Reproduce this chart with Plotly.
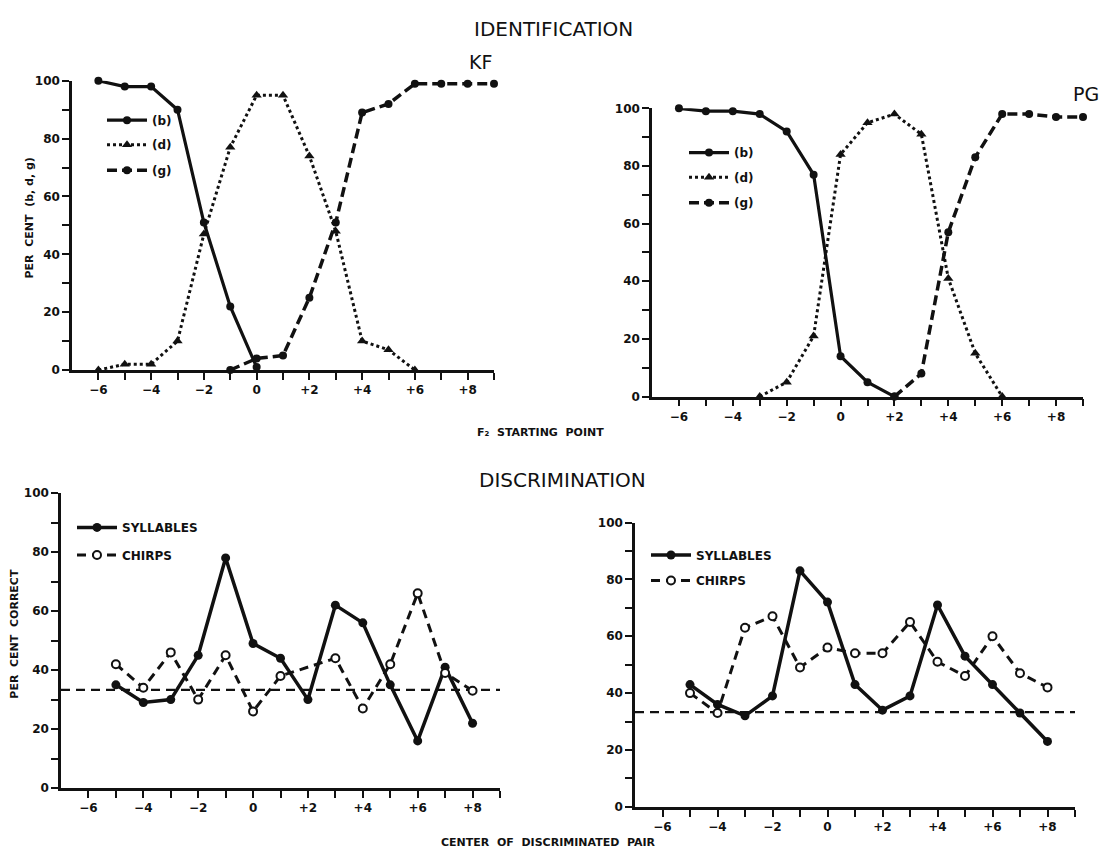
import plotly.graph_objects as go

# ---------------- data ----------------
x_tick_vals = [-6, -4, -2, 0, 2, 4, 6, 8]
x_tick_text = ["\u22126", "\u22124", "\u22122", "0", "+2", "+4", "+6", "+8"]
x_minor_vals = [-5, -3, -1, 1, 3, 5, 7, 9]
y_tick_vals = [0, 20, 40, 60, 80, 100]
y_tick_text = ["0", "20", "40", "60", "80", "100"]
y_minor_vals = [10, 30, 50, 70, 90]

# Identification, listener KF
kf_b_x = [-6, -5, -4, -3, -2, -1, 0]
kf_b_y = [100, 98, 98, 90, 51, 22, 1]
kf_d_x = [-6, -5, -4, -3, -2, -1, 0, 1, 2, 3, 4, 5, 6]
kf_d_y = [0, 2, 2, 10, 47, 77, 95, 95, 74, 48, 10, 7, 0]
kf_g_x = [-1, 0, 1, 2, 3, 4, 5, 6, 7, 8, 9]
kf_g_y = [0, 4, 5, 25, 51, 89, 92, 99, 99, 99, 99]

# Identification, listener PG
pg_b_x = [-6, -5, -4, -3, -2, -1, 0, 1, 2]
pg_b_y = [100, 99, 99, 98, 92, 77, 14, 5, 0]
pg_d_x = [-3, -2, -1, 0, 1, 2, 3, 4, 5, 6]
pg_d_y = [0, 5, 21, 84, 95, 98, 91, 41, 15, 0]
pg_g_x = [2, 3, 4, 5, 6, 7, 8, 9]
pg_g_y = [0, 8, 57, 83, 98, 98, 97, 97]

# Discrimination, listener KF
kf_syl_x = [-5, -4, -3, -2, -1, 0, 1, 2, 3, 4, 5, 6, 7, 8]
kf_syl_y = [35, 29, 30, 45, 78, 49, 44, 30, 62, 56, 35, 16, 41, 22]
kf_chirp_x = [-5, -4, -3, -2, -1, 0, 1, 3, 4, 5, 6, 7, 8]
kf_chirp_y = [42, 34, 46, 30, 45, 26, 38, 44, 27, 42, 66, 39, 33]

# Discrimination, listener PG
pg_syl_x = [-5, -4, -3, -2, -1, 0, 1, 2, 3, 4, 5, 6, 7, 8]
pg_syl_y = [43, 36, 32, 39, 83, 72, 43, 34, 39, 71, 53, 43, 33, 23]
pg_chirp_x = [-5, -4, -3, -2, -1, 0, 1, 2, 3, 4, 5, 6, 7, 8]
pg_chirp_y = [40, 33, 63, 67, 49, 56, 54, 54, 65, 51, 46, 60, 47, 42]

chance_x = [-7, 9]
chance_level = 33.3

# ---------------- layout helpers ----------------
W, H = 1100, 864
FONT = "DejaVu Sans"
BLACK = "#111111"

# panel boxes in pixels: left(x=-7), right(x=9), top(y=100), bottom(y=0)
panels = {
    "1": (72, 494, 75, 369),
    "2": (652, 1083, 103, 396),
    "3": (61, 500, 494, 794),
    "4": (635, 1075, 524, 813),
}


def xdom(p):
    return [p[0] / W, p[1] / W]


def ydom(p):
    return [1 - p[3] / H, 1 - p[2] / H]


fig = go.Figure()
legend_boxes = {}


def add_line(x, y, axis, dash, symbol, width, msize, name, leg_pos, open_marker=False):
    legname = "legend%d" % (len(legend_boxes) + 1)
    if legname == "legend1":
        legname = "legend"
    legend_boxes[legname] = leg_pos
    fig.add_trace(go.Scatter(
        x=x, y=y, mode="lines+markers", name=name,
        xaxis="x" + ("" if axis == "1" else axis),
        yaxis="y" + ("" if axis == "1" else axis),
        line=dict(color=BLACK, width=width, dash=dash),
        marker=dict(symbol=symbol, size=msize,
                    color="white" if open_marker else BLACK,
                    line=dict(color=BLACK, width=2 if open_marker else 0)),
        cliponaxis=False, legend=legname,
    ))


# chance lines (drawn first, beneath the data)
for ax in ("3", "4"):
    fig.add_trace(go.Scatter(
        x=chance_x, y=[chance_level] * len(chance_x), mode="lines",
        xaxis="x" + ax, yaxis="y" + ax,
        line=dict(color=BLACK, width=2.2, dash="9px,6px"),
        showlegend=False, hoverinfo="skip"))

# identification KF
add_line(kf_b_x, kf_b_y, "1", "solid", "circle", 3.2, 8, "(b)", (102, 115))
add_line(kf_d_x, kf_d_y, "1", "dot", "triangle-up", 3, 9, "(d)", (102, 140))
add_line(kf_g_x, kf_g_y, "1", "10px,5px", "circle", 3.5, 8, "(g)", (102, 166))
# identification PG
add_line(pg_b_x, pg_b_y, "2", "solid", "circle", 3.2, 8, "(b)", (684, 148))
add_line(pg_d_x, pg_d_y, "2", "dot", "triangle-up", 3, 9, "(d)", (684, 173))
add_line(pg_g_x, pg_g_y, "2", "10px,5px", "circle", 3.5, 8, "(g)", (684, 199))
# discrimination KF
add_line(kf_syl_x, kf_syl_y, "3", "solid", "circle", 3.5, 9, "SYLLABLES", (72, 529))
add_line(kf_chirp_x, kf_chirp_y, "3", "9px,6px", "circle", 3, 8, "CHIRPS", (72, 557), open_marker=True)
# discrimination PG
add_line(pg_syl_x, pg_syl_y, "4", "solid", "circle", 3.5, 9, "SYLLABLES", (646, 557))
add_line(pg_chirp_x, pg_chirp_y, "4", "9px,6px", "circle", 3, 8, "CHIRPS", (646, 583), open_marker=True)

tickfont = dict(family=FONT, size=12, color=BLACK, weight="bold")

layout = dict(
    width=W, height=H, autosize=False,
    margin=dict(l=0, r=0, t=0, b=0),
    paper_bgcolor="white", plot_bgcolor="white",
    font=dict(family=FONT, color=BLACK),
)

for k, p in panels.items():
    sfx = "" if k == "1" else k
    layout["xaxis" + sfx] = dict(
        domain=xdom(p), anchor="y" + sfx, range=[-7, 9],
        showline=True, linecolor=BLACK, linewidth=2.5,
        showgrid=False, zeroline=False,
        tickmode="array", tickvals=x_tick_vals, ticktext=list(x_tick_text),
        ticks="outside", ticklen=7, tickwidth=2, tickcolor=BLACK,
        minor=dict(tickmode="array", tickvals=x_minor_vals, ticks="outside",
                   ticklen=7, tickwidth=2, tickcolor=BLACK, showgrid=False),
        tickfont=tickfont, fixedrange=True,
    )
    layout["yaxis" + sfx] = dict(
        domain=ydom(p), anchor="x" + sfx, range=[0, 100],
        showline=True, linecolor=BLACK, linewidth=2.5,
        showgrid=False, zeroline=False,
        tickmode="array", tickvals=y_tick_vals, ticktext=y_tick_text,
        ticks="outside", ticklen=7, tickwidth=2, tickcolor=BLACK,
        minor=dict(tickmode="array", tickvals=y_minor_vals, ticks="outside",
                   ticklen=7, tickwidth=2, tickcolor=BLACK, showgrid=False),
        tickfont=tickfont, fixedrange=True,
    )

for legname, (lx, ly) in legend_boxes.items():
    layout[legname] = dict(
        bgcolor="rgba(0,0,0,0)",
        font=dict(family=FONT, size=12, color=BLACK, weight="bold"),
        itemwidth=40, xanchor="left", yanchor="middle",
        x=lx / W, y=1 - ly / H,
    )


def ann(text, x, y, size, bold=False, angle=0):
    return dict(text=text, x=x / W, y=1 - y / H, xref="paper", yref="paper",
                showarrow=False, textangle=angle, xanchor="center", yanchor="middle",
                font=dict(family=FONT, size=size, color=BLACK,
                          weight="bold" if bold else "normal"))


layout["annotations"] = [
    ann("IDENTIFICATION", 553, 22, 20),
    ann("DISCRIMINATION", 562, 481, 20),
    ann("KF", 480, 56, 19),
    ann("PG", 1086, 88, 19),
    ann("F\u2082  STARTING  POINT", 540, 432, 11, bold=True),
    ann("CENTER  OF  DISCRIMINATED  PAIR", 548, 849, 11, bold=True),
    ann("PER  CENT  (b, d, g)", 30, 215, 11, bold=True, angle=-90),
    ann("PER  CENT  CORRECT", 15, 637, 11, bold=True, angle=-90),
]

fig.update_layout(**layout)
fig.write_html("out.html", config={"displayModeBar": False},
               post_script="document.body.style.margin='0';")
